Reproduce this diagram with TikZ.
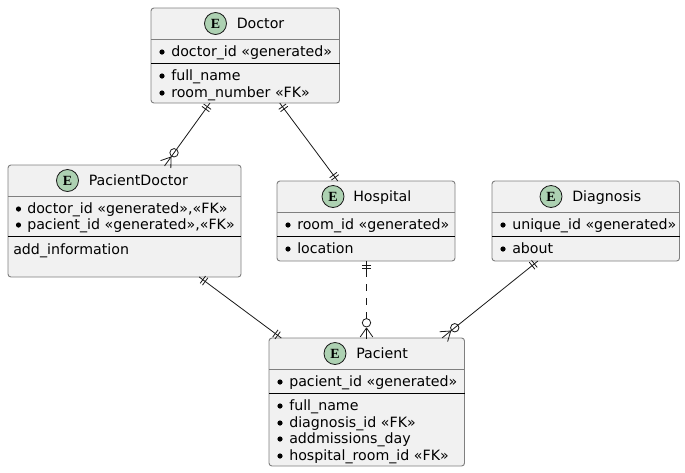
\documentclass[tikz,border=0pt]{standalone}
\usepackage{fontspec}
\setmainfont{DejaVu Sans}
\newfontfamily\spotfont{Liberation Serif}
\usetikzlibrary{calc}
\definecolor{boxfill}{HTML}{F1F1F1}
\definecolor{boxline}{HTML}{7F7F7F}
\definecolor{spotfill}{HTML}{ADD1B2}
\definecolor{spotline}{HTML}{181818}
\tikzset{
  entitybox/.style={draw=boxline,fill=boxfill,line width=0.7pt,rounded corners=2.2pt,anchor=north west,inner sep=0pt,outer sep=0pt},
  titletext/.style={font=\fontsize{10.65}{12}\selectfont,anchor=base west,inner sep=0pt,text=black},
  attrtext/.style={font=\fontsize{10.65}{12}\selectfont,anchor=base west,inner sep=0pt,text=black},
  spotnode/.style={circle,draw=spotline,fill=spotfill,line width=0.6pt,minimum size=16.5pt,inner sep=0pt,font=\fontsize{10.5}{12}\spotfont\bfseries},
  bulletdot/.style={circle,fill=black,minimum size=3.9pt,inner sep=0pt},
  relline/.style={draw=spotline,line width=0.6pt},
  sepline/.style={draw=black,line width=0.6pt},
  headline/.style={draw=boxline,line width=0.6pt},
  reldash/.style={relline,dash pattern=on 5.25pt off 5.25pt},
}
% name, x, y, w, h, header line y, separator y
\newcommand{\entitybg}[7]{%
  \node[entitybox,minimum width=#4*0.75pt,minimum height=#5*0.75pt] (#1) at (#2,#3) {};
  \draw[headline] (#2,#6) -- (#2+#4,#6);
  \draw[sepline] (#2,#7) -- (#2+#4,#7);
}
\newcommand{\attr}[5]{% name, bullet x, text x, baseline y, text
  \node[bulletdot] (#1b) at (#2,#4-4) {};
  \node[attrtext] (#1) at (#3,#4) {#5};
}
% two ticks at distance 4.5px and 7.5px from end #1, towards #2
\newcommand{\tickpair}[2]{%
  \foreach \tickd in {3.4pt,5.6pt}{
    \coordinate (tickp) at ($(#1)!\tickd!(#2)$);
    \draw[relline] ($(tickp)!3.4pt!90:(#2)$) -- ($(tickp)!3.4pt!-90:(#2)$);
  }%
}
% circle and crow's foot, apex #1, coming from #2
\newcommand{\crowfoot}[2]{%
  \draw[relline] ($(#1)!3.9pt!(#2)$) circle[radius=3.15pt];
  \foreach \crowa in {145,180,215}{
    \draw[relline] (#1) -- ($(#1)!8.25pt!\crowa:(#2)$);
  }%
}
\begin{document}
\begin{tikzpicture}[x=0.75pt,y=-0.75pt]
\useasboundingbox (0,0) rectangle (685,472);
% entities
\entitybg{doc}{151}{8}{188.5}{95}{39}{63}
\node[spotnode] (docs) at (215.5,23.5) {E};
\node[titletext] (doct) at (236.5,28.5) {Doctor};
\attr{doca}{162}{171}{56}{doctor\_id «generated»}
\attr{docb}{162}{171}{80}{full\_name}
\attr{docc}{162}{171}{97}{room\_number «FK»}

\entitybg{pd}{8}{165}{233}{112}{196}{236}
\node[spotnode] (pds) at (67.5,180.5) {E};
\node[titletext] (pdt) at (88.5,185.5) {PacientDoctor};
\attr{pda}{18.5}{27}{213}{doctor\_id «generated»,«FK»}
\attr{pdb}{18.5}{27}{229}{pacient\_id «generated»,«FK»}
\node[attrtext] (pdc) at (13,254) {add\_information};

\entitybg{hos}{277}{181}{178}{80}{212}{236}
\node[spotnode] (hoss) at (333,196.5) {E};
\node[titletext] (host) at (353,201.5) {Hospital};
\attr{hosa}{288}{297}{229}{room\_id «generated»}
\attr{hosb}{288}{297}{253}{location}

\entitybg{dia}{492}{181}{187.5}{80}{212}{236}
\node[spotnode] (dias) at (551,196.5) {E};
\node[titletext] (diat) at (572,201.5) {Diagnosis};
\attr{diaa}{503}{512}{229}{unique\_id «generated»}
\attr{diab}{503}{512}{253}{about}

\entitybg{pac}{269}{338}{195.5}{128}{369}{393}
\node[spotnode] (pacs) at (335,353.5) {E};
\node[titletext] (pact) at (356,358.5) {Pacient};
\attr{paca}{280}{289}{386}{pacient\_id «generated»}
\attr{pacb}{280}{289}{410}{full\_name}
\attr{pacc}{280}{289}{427}{diagnosis\_id «FK»}
\attr{pacd}{280}{289}{443}{addmissions\_day}
\attr{pace}{280}{289}{460}{hospital\_room\_id «FK»}

% connector ends
\coordinate (e1a) at ($(doc.south west)+(59,0)$);
\coordinate (e1b) at ($(pd.north west)+(163,-8)$);
\coordinate (e2a) at ($(doc.south west)+(128.7,0)$);
\coordinate (e2b) at ($(hos.north west)+(60.8,0)$);
\coordinate (e3a) at ($(pd.south west)+(191.2,0)$);
\coordinate (e3b) at ($(pac.north west)+(12.3,0)$);
\coordinate (e4a) at ($(hos.south west)+(89.5,0)$);
\coordinate (e4b) at ($(pac.north west)+(97.5,-10)$);
\coordinate (e5a) at ($(dia.south west)+(45.9,0)$);
\coordinate (e5b) at ($(pac.north east)+(-13.8,-7)$);
\coordinate (e4s) at ($(e4a)!6.75pt!(e4b)$);
\coordinate (e4t) at ($(e4a)+(0,58)$);
\draw[relline] (e1a) -- (e1b);
\tickpair{e1a}{e1b}
\crowfoot{e1b}{e1a}
\draw[relline] (e2a) -- (e2b);
\tickpair{e2a}{e2b}
\tickpair{e2b}{e2a}
\draw[relline] (e3a) -- (e3b);
\tickpair{e3a}{e3b}
\tickpair{e3b}{e3a}
\draw[relline] (e4a) -- (e4s);
\draw[reldash] (e4s) -- (e4t);
\tickpair{e4a}{e4b}
\crowfoot{e4b}{e4a}
\draw[relline] (e5a) -- (e5b);
\tickpair{e5a}{e5b}
\crowfoot{e5b}{e5a}
\end{tikzpicture}
\end{document}
